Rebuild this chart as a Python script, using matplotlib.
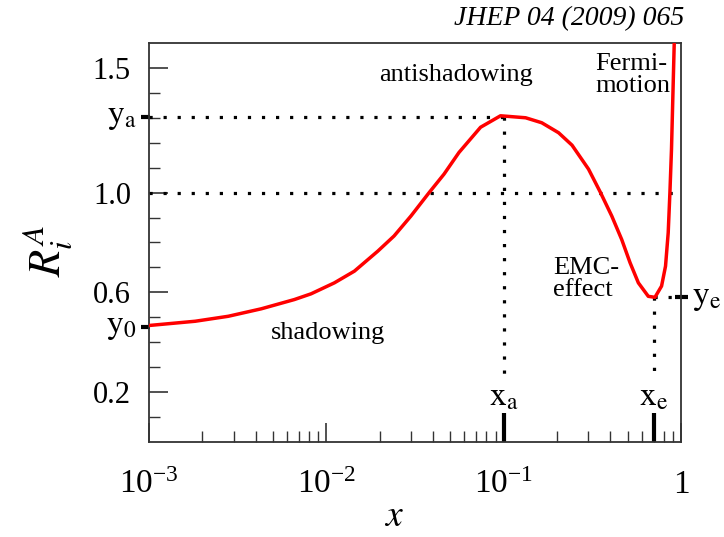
import matplotlib.pyplot as plt
import matplotlib.transforms as mtransforms

# curve
x_vals = [0.001, 0.00182, 0.0028, 0.0043, 0.0066, 0.0082, 0.0111, 0.0144, 0.0195,
          0.0241, 0.030, 0.038, 0.0461, 0.056, 0.0741, 0.096, 0.133, 0.164, 0.204,
          0.243, 0.301, 0.35, 0.407, 0.463, 0.516, 0.575, 0.654, 0.713, 0.777,
          0.818, 0.847, 0.866, 0.884, 0.916, 0.93]
r_vals = [0.467, 0.484, 0.504, 0.534, 0.571, 0.594, 0.638, 0.685, 0.765,
          0.826, 0.906, 1.0, 1.074, 1.161, 1.262, 1.308, 1.30, 1.28, 1.24,
          1.19, 1.094, 1.003, 0.906, 0.812, 0.719, 0.638, 0.584, 0.58, 0.625,
          0.705, 0.839, 1.0, 1.174, 1.6, 1.8]

x_a, x_e = 0.1, 0.7
y_0, y_a, y_e = 0.46, 1.305, 0.58

y_major = [0.2, 0.6, 1.0, 1.5]
y_labels = ["0.2", "0.6", "1.0", "1.5"]
y_minor = [0.1, 0.3, 0.4, 0.5, 0.7, 0.8, 0.9, 1.1, 1.2, 1.3, 1.4]
x_major = [1e-3, 1e-2, 1e-1, 1]
x_labels = [r"$\mathregular{10^{-3}}$", r"$\mathregular{10^{-2}}$", r"$\mathregular{10^{-1}}$", "1"]

plt.rcParams["font.family"] = ["Liberation Serif", "DejaVu Serif"]
plt.rcParams["mathtext.fontset"] = "stix"

fig = plt.figure(figsize=(7.24, 5.37), dpi=100)
ax = fig.add_axes([0.2058, 0.177, 0.7348, 0.743])

ax.plot(x_vals, r_vals, color="#ff0000", lw=2.5, solid_joinstyle="round", zorder=3)

dot = dict(color="black", lw=2.3, linestyle=(0, (1.0, 3.4)), dash_capstyle="butt", zorder=2)
ax.plot([1e-3, 0.96], [1.0, 1.0], **dot)
ax.plot([1e-3, x_a], [y_a, y_a], **dot)
ax.plot([x_a, x_a], [y_a, 0.26], **dot)
ax.plot([x_e, x_e], [y_e, 0.26], **dot)
ax.plot([x_e, 0.93], [y_e, y_e], **dot)

ax.set_xscale("log")
ax.set_xlim(1e-3, 1)
ax.set_ylim(0, 1.6)

ax.set_yticks(y_major)
ax.set_yticklabels(y_labels, fontsize=22)
ax.set_yticks(y_minor, minor=True)
ax.set_xticks(x_major)
ax.set_xticklabels(x_labels, fontsize=24)
ax.tick_params(axis="both", which="major", direction="in", length=14, width=1.2,
               color="#333333", top=False, right=False)
ax.tick_params(axis="both", which="minor", direction="in", length=8, width=1.0,
               color="#333333", top=False, right=False)
ax.tick_params(axis="y", which="major", pad=13)
ax.tick_params(axis="x", which="major", pad=20)
# hide the default major tick at 0.1 (replaced by the thick x_a mark)
for t in ax.xaxis.get_major_ticks():
    if abs(t.get_loc() - 0.1) < 1e-9:
        t.tick1line.set_visible(False)
for s in ax.spines.values():
    s.set_linewidth(1.3)
    s.set_color("#333333")

# thick marks for x_a, x_e, y_0, y_a, y_e
bx = mtransforms.blended_transform_factory(ax.transData, ax.transAxes)
by = mtransforms.blended_transform_factory(ax.transAxes, ax.transData)
for xv in (x_a, x_e):
    ax.plot([xv, xv], [0, 0.073], transform=bx, color="black", lw=3, clip_on=False,
            solid_capstyle="butt")
for yv in (y_0, y_a):
    ax.plot([-0.015, 0.002], [yv, yv], transform=by, color="black", lw=3, clip_on=False,
            solid_capstyle="butt")
ax.plot([0.988, 1.014], [y_e, y_e], transform=by, color="black", lw=3, clip_on=False,
        solid_capstyle="butt")

ax.text(-0.024, y_a, r"$\mathrm{y_a}$", transform=by, ha="right", va="center", fontsize=24)
ax.text(-0.024, y_0, r"$\mathrm{y_0}$", transform=by, ha="right", va="center", fontsize=24)
ax.text(1.02, y_e, r"$\mathrm{y_e}$", transform=by, ha="left", va="center",
        fontsize=24, clip_on=False)
ax.text(x_a, 0.075, r"$\mathrm{x_a}$", transform=bx, ha="center", va="bottom", fontsize=24)
ax.text(x_e, 0.075, r"$\mathrm{x_e}$", transform=bx, ha="center", va="bottom", fontsize=24)

ax.text(0.054, 1.47, "antishadowing", ha="center", va="center", fontsize=19)
ax.text(0.33, 1.56, "Fermi-\nmotion", ha="left", va="top", fontsize=19, linespacing=1.0)
ax.text(0.19, 0.74, "EMC-\neffect", ha="left", va="top", fontsize=19, linespacing=1.0)
ax.text(0.0102, 0.435, "shadowing", ha="center", va="center", fontsize=19)

# axis titles placed where the reference has them
ax.text(0.4605, -0.188, r"$x$", transform=ax.transAxes, ha="center", va="center",
        fontsize=27)
ax.text(-0.191, 0.479, r"$R_i^A$", transform=ax.transAxes, ha="center", va="center",
        fontsize=32, rotation=90)

fig.text(0.945, 0.966, "JHEP 04 (2009) 065", ha="right", va="center", fontsize=20,
         style="italic")

fig.savefig("out.png", dpi=100)
